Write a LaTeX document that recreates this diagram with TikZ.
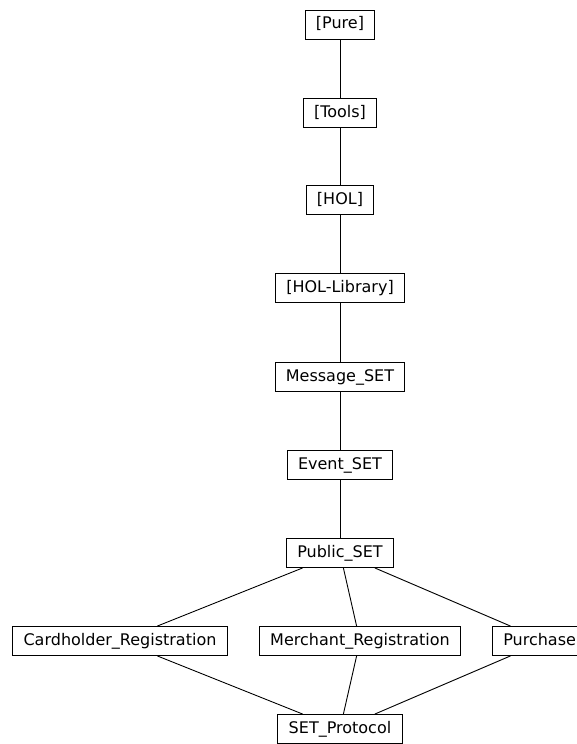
\documentclass[tikz,border=0pt]{standalone}
\usepackage{fontspec}
\setmainfont{DejaVu Sans}
\begin{document}
\begin{tikzpicture}[x=1pt,y=-1pt,
  box/.style={draw,line width=0.9pt,inner xsep=10.8pt,inner ysep=6.5pt,text height=12pt,text depth=4pt,font=\fontsize{16}{19}\selectfont},
  edge/.style={line width=0.9pt}]
\useasboundingbox (0,0) rectangle (577,744);
\node[box] (pure) at (340,24.5) {[Pure]};
\node[box] (tools) at (340,113) {[Tools]};
\node[box] (hol) at (340,200) {[HOL]};
\node[box] (holl) at (340,288) {[HOL-Library]};
\node[box] (msg) at (340,377) {Message\_SET};
\node[box] (evt) at (340,465) {Event\_SET};
\node[box] (pub) at (340,553) {Public\_SET};
\node[box] (card) at (120,641) {Cardholder\_Registration};
\node[box] (merch) at (360,641) {Merchant\_Registration};
\node[box,anchor=west,text width=84pt,align=left] (purch) at (492,641) {Purchase};
\node[box] (setp) at (340,729) {SET\_Protocol};
\draw[edge] (pure) -- (tools);
\draw[edge] (tools) -- (hol);
\draw[edge] (hol) -- (holl);
\draw[edge] (holl) -- (msg);
\draw[edge] (msg) -- (evt);
\draw[edge] (evt) -- (pub);
\draw[edge] (pub) -- (card);
\draw[edge] (pub) -- (merch);
\draw[edge] (pub) -- (purch);
\draw[edge] (card) -- (setp);
\draw[edge] (merch) -- (setp);
\draw[edge] (purch) -- (setp);
\end{tikzpicture}
\end{document}
